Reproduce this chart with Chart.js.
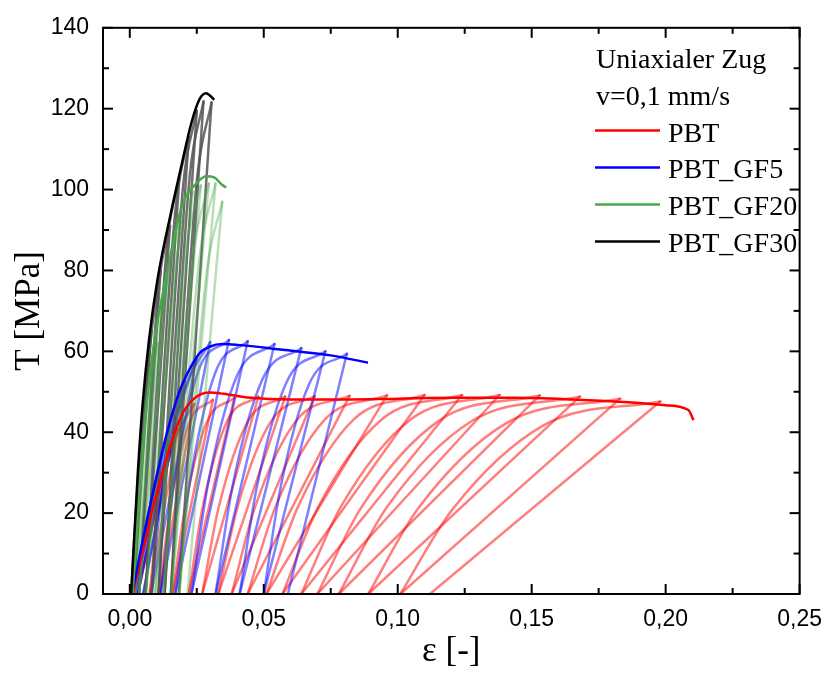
<!DOCTYPE html>
<html>
<head>
<meta charset="utf-8">
<script src="https://cdn.jsdelivr.net/npm/chart.js@4.4.0/dist/chart.umd.min.js"></script>
<style>
html, body { margin: 0; padding: 0; background: #fff; }
canvas { display: block; }
</style>
</head>
<body>
<canvas id="mycanvas" width="834" height="673"></canvas>
<script>
// axis ticks
var xTicks = [0, 0.05, 0.10, 0.15, 0.20, 0.25];
var xTickLabels = ['0,00', '0,05', '0,10', '0,15', '0,20', '0,25'];
var xMinor = [0.025, 0.075, 0.125, 0.175, 0.225];
var yTicks = [0, 20, 40, 60, 80, 100, 120, 140];
var yMinor = [10, 30, 50, 70, 90, 110, 130];

var seriesNames = ['PBT', 'PBT_GF5', 'PBT_GF20', 'PBT_GF30'];
var legendTitle = ['Uniaxialer Zug', 'v=0,1 mm/s'];

// monotonic tensile curves (strain, stress)
var pbtX = [0.001, 0.005, 0.0085, 0.0122, 0.0155, 0.0196, 0.024, 0.0296, 0.035, 0.044, 0.06, 0.08, 0.1, 0.12, 0.143, 0.165, 0.186, 0.2, 0.2085, 0.2104];
var pbtY = [0, 11, 21, 30, 37.5, 44.5, 48.3, 49.8, 49.5, 48.6, 48.1, 48.1, 48.3, 48.5, 48.5, 48.1, 47.4, 46.7, 45.5, 43];

var gf5X = [0.0008, 0.0074, 0.0137, 0.0185, 0.0211, 0.026, 0.030, 0.0345, 0.040, 0.057, 0.075, 0.0889];
var gf5Y = [0, 21.3, 39.4, 50, 54, 59.5, 61.2, 61.8, 61.6, 60.4, 59, 57.2];

var gf20X = [0.001, 0.0063, 0.010, 0.0135, 0.0195, 0.0248, 0.0285, 0.0315, 0.0344, 0.036];
var gf20Y = [0, 47, 66, 78, 96, 101.5, 103.3, 103, 101.2, 100.5];

var gf30X = [0.0005, 0.003, 0.0048, 0.0072, 0.0104, 0.0156, 0.0193, 0.023, 0.026, 0.0285, 0.030, 0.0315];
var gf30Y = [0, 30, 47, 63, 78, 95, 106, 116.5, 122.3, 123.8, 123.2, 122.2];

// cyclic tests, one row per cycle:
// [start strain, knee1 strain, knee1 stress, knee2 strain, knee2 stress, peak strain, peak stress, end strain]
var pbtCycles = [
	[0.001, 0.0043, 9, 0.0082, 20, 0.012, 29, 0.003],
	[0.003, 0.0075, 14, 0.0128, 29.5, 0.018, 41, 0.0074],
	[0.0074, 0.0107, 20.7, 0.0165, 37.5, 0.024, 47, 0.011],
	[0.011, 0.015, 21.1, 0.022, 42.0, 0.031, 48, 0.016],
	[0.016, 0.0206, 21.3, 0.0287, 42.4, 0.039, 48.5, 0.022],
	[0.022, 0.0272, 21.5, 0.0363, 42.7, 0.048, 48.8, 0.027],
	[0.027, 0.0332, 21.5, 0.0441, 42.7, 0.058, 48.8, 0.033],
	[0.033, 0.0402, 21.5, 0.0528, 42.8, 0.069, 48.9, 0.038],
	[0.038, 0.0468, 21.6, 0.0622, 42.9, 0.082, 49.0, 0.044],
	[0.044, 0.0544, 21.6, 0.0726, 43.0, 0.096, 49.1, 0.051],
	[0.051, 0.0628, 21.6, 0.0835, 43.1, 0.110, 49.2, 0.057],
	[0.057, 0.0704, 21.6, 0.0939, 43.1, 0.124, 49.2, 0.064],
	[0.064, 0.0788, 21.6, 0.1047, 43.1, 0.138, 49.2, 0.070],
	[0.070, 0.0866, 21.6, 0.1157, 43.0, 0.153, 49.1, 0.078],
	[0.078, 0.0960, 21.5, 0.1275, 42.7, 0.168, 48.8, 0.089],
	[0.089, 0.1078, 21.3, 0.1407, 42.3, 0.183, 48.3, 0.101],
	[0.101, 0.1204, 20.9, 0.1544, 41.7, 0.198, 47.6, 0.112]
];

var gf5Cycles = [
	[0.0008, 0.003, 7, 0.0055, 15.5, 0.008, 23, 0.001],
	[0.001, 0.0043, 10.5, 0.0082, 23.5, 0.012, 34.5, 0.002],
	[0.002, 0.0062, 14, 0.0111, 31.5, 0.016, 45, 0.003],
	[0.003, 0.008, 15.5, 0.0141, 36.5, 0.020, 52.5, 0.005],
	[0.005, 0.010, 18, 0.0175, 43, 0.025, 58.5, 0.008],
	[0.008, 0.0124, 27.4, 0.0201, 50, 0.030, 62.3, 0.0115],
	[0.0115, 0.0166, 27.6, 0.0255, 55.0, 0.037, 62.8, 0.017],
	[0.017, 0.0224, 27.5, 0.0319, 54.7, 0.044, 62.5, 0.023],
	[0.023, 0.0292, 27.2, 0.0401, 54.1, 0.054, 61.8, 0.032],
	[0.032, 0.0384, 26.8, 0.0496, 53.2, 0.064, 60.8, 0.041],
	[0.041, 0.0474, 26.4, 0.0586, 52.5, 0.073, 60.0, 0.050],
	[0.050, 0.0562, 26.1, 0.0670, 52.0, 0.081, 59.4, 0.059]
];

var gf20Cycles = [
	[0.001, 0.0039, 26, 0.0072, 50, 0.0105, 62, 0.002],
	[0.002, 0.0058, 33.2, 0.0101, 63, 0.0145, 79, 0.0035],
	[0.0035, 0.0082, 38.6, 0.0136, 76.4, 0.019, 92, 0.006],
	[0.006, 0.0113, 41.8, 0.0174, 82.6, 0.0235, 99.5, 0.0095],
	[0.0095, 0.0146, 42.4, 0.0206, 83.8, 0.0265, 101, 0.0125],
	[0.0125, 0.0176, 42.6, 0.0236, 84.2, 0.0295, 101.5, 0.0155],
	[0.0155, 0.0205, 42.6, 0.0262, 84.2, 0.032, 101.5, 0.0185],
	[0.0185, 0.0233, 40.7, 0.0289, 80.5, 0.0345, 97, 0.0215]
];

var gf30Cycles = [
	[0.0005, 0.0028, 26, 0.0054, 49, 0.008, 65, 0.0015],
	[0.0015, 0.0045, 36, 0.008, 64, 0.0115, 80, 0.0035],
	[0.0035, 0.007, 41, 0.011, 77.4, 0.015, 91, 0.0059],
	[0.0059, 0.0097, 46.4, 0.0141, 87.6, 0.0185, 103, 0.0082],
	[0.0082, 0.0123, 50.9, 0.0172, 96.1, 0.022, 113, 0.0107],
	[0.0107, 0.015, 53.8, 0.0200, 101.6, 0.025, 119.5, 0.013],
	[0.013, 0.0174, 54.8, 0.0224, 103.5, 0.0275, 121.8, 0.0153],
	[0.0153, 0.0199, 54.7, 0.0252, 103.3, 0.0305, 121.5, 0.0183]
];

var mainColors = ['#ff0000', '#0000ff', 'rgb(72,168,72)', '#000000'];
var loopColors = ['rgba(255,0,0,0.5)', 'rgba(0,0,255,0.5)', 'rgba(72,168,72,0.38)', 'rgba(85,85,85,0.85)'];

function toPoints(xs, ys) {
	var pts = [];
	for (var i in xs) {
		pts.push({x: xs[i], y: ys[i]});
	}
	return pts;
}

function cycleSets(rows, color, order) {
	var sets = [];
	for (var i in rows) {
		var r = rows[i];
		sets.push({
			data: [{x: r[0], y: 0}, {x: r[1], y: r[2]}, {x: r[3], y: r[4]}, {x: r[5], y: r[6]}],
			borderColor: color, borderWidth: 2.5, cubicInterpolationMode: 'monotone',
			borderCapStyle: 'round', order: order
		});
		sets.push({
			data: [{x: r[5], y: r[6]}, {x: r[7], y: 0}],
			borderColor: color, borderWidth: 2.5, tension: 0,
			borderCapStyle: 'round', order: order
		});
	}
	return sets;
}

var datasets = [];
datasets = datasets.concat(cycleSets(pbtCycles, loopColors[0], 10));
datasets = datasets.concat(cycleSets(gf5Cycles, loopColors[1], 9));
datasets = datasets.concat(cycleSets(gf30Cycles, loopColors[3], 8));
datasets = datasets.concat(cycleSets(gf20Cycles, loopColors[2], 7));

var mains = [[pbtX, pbtY], [gf5X, gf5Y], [gf20X, gf20Y], [gf30X, gf30Y]];
for (var m = 0; m < 4; m++) {
	datasets.push({
		label: seriesNames[m],
		data: toPoints(mains[m][0], mains[m][1]),
		borderColor: mainColors[m], borderWidth: 2.5,
		cubicInterpolationMode: 'monotone', order: 4 - m
	});
}

var frameAndLegend = {
	id: 'frameAndLegend',
	afterDatasetsDraw: function(chart) {
		var ctx = chart.ctx, a = chart.chartArea;
		var xs = chart.scales.x, ys = chart.scales.y;
		ctx.save();
		ctx.strokeStyle = '#000';
		ctx.lineWidth = 2;
		ctx.strokeRect(a.left, a.top, a.right - a.left, a.bottom - a.top);

		function seg(x1, y1, x2, y2) {
			ctx.beginPath(); ctx.moveTo(x1, y1); ctx.lineTo(x2, y2); ctx.stroke();
		}
		function xTick(v, len) {
			var px = xs.getPixelForValue(v);
			seg(px, a.bottom, px, a.bottom - len);
			seg(px, a.top, px, a.top + len);
		}
		function yTick(v, len) {
			var py = ys.getPixelForValue(v);
			seg(a.left, py, a.left + len, py);
			seg(a.right, py, a.right - len, py);
		}
		xTicks.forEach(function(v) { xTick(v, 10); });
		xMinor.forEach(function(v) { xTick(v, 6); });
		yTicks.forEach(function(v) { yTick(v, 10); });
		yMinor.forEach(function(v) { yTick(v, 6); });

		// legend
		ctx.fillStyle = '#000';
		ctx.font = '28px "Liberation Serif"';
		ctx.textBaseline = 'alphabetic';
		ctx.textAlign = 'left';
		ctx.fillText(legendTitle[0], 596, 68);
		ctx.fillText(legendTitle[1], 596, 105);
		var lineY = [130.5, 167.5, 204.5, 241.5];
		var baseY = [142, 178, 215, 252];
		for (var i = 0; i < 4; i++) {
			ctx.strokeStyle = mainColors[i];
			ctx.lineWidth = 2.5;
			seg(595, lineY[i], 660, lineY[i]);
			ctx.fillText(seriesNames[i], 668, baseY[i]);
		}
		ctx.restore();
	}
};

var ctx = document.getElementById('mycanvas');

var chart = new Chart(ctx, {
	type: 'line',
	data: {datasets: datasets},
	plugins: [frameAndLegend],
	options: {
		responsive: false,
		animation: false,
		devicePixelRatio: 1,
		layout: {padding: {top: 23, right: 26, left: 0, bottom: 0}},
		elements: {point: {radius: 0}},
		plugins: {legend: {display: false}, tooltip: {enabled: false}},
		scales: {
			x: {
				type: 'linear', min: -0.01, max: 0.25,
				grid: {display: false, drawTicks: false},
				border: {display: false},
				afterBuildTicks: function(s) { s.ticks = xTicks.map(function(v) { return {value: v}; }); },
				afterFit: function(s) { s.height = 79; },
				ticks: {
					autoSkip: false, maxRotation: 0, padding: 12, color: '#000',
					font: {family: 'Liberation Sans', size: 23},
					callback: function(v) { return xTickLabels[xTicks.indexOf(v)]; }
				},
				title: {
					display: true, text: 'ε [-]', color: '#000',
					font: {family: 'Liberation Serif', size: 35},
					padding: {top: 0, bottom: 0}
				}
			},
			y: {
				type: 'linear', min: 0, max: 140,
				grid: {display: false, drawTicks: false},
				border: {display: false},
				afterBuildTicks: function(s) { s.ticks = yTicks.map(function(v) { return {value: v}; }); },
				afterFit: function(s) { s.width = 103; },
				ticks: {
					padding: 14, color: '#000',
					font: {family: 'Liberation Sans', size: 23},
					callback: function(v) { return String(v); }
				},
				title: {
					display: true, text: 'T [MPa]', color: '#000',
					font: {family: 'Liberation Serif', size: 35},
					padding: {top: 9, bottom: 0}
				}
			}
		}
	}
});
</script>
</body>
</html>
